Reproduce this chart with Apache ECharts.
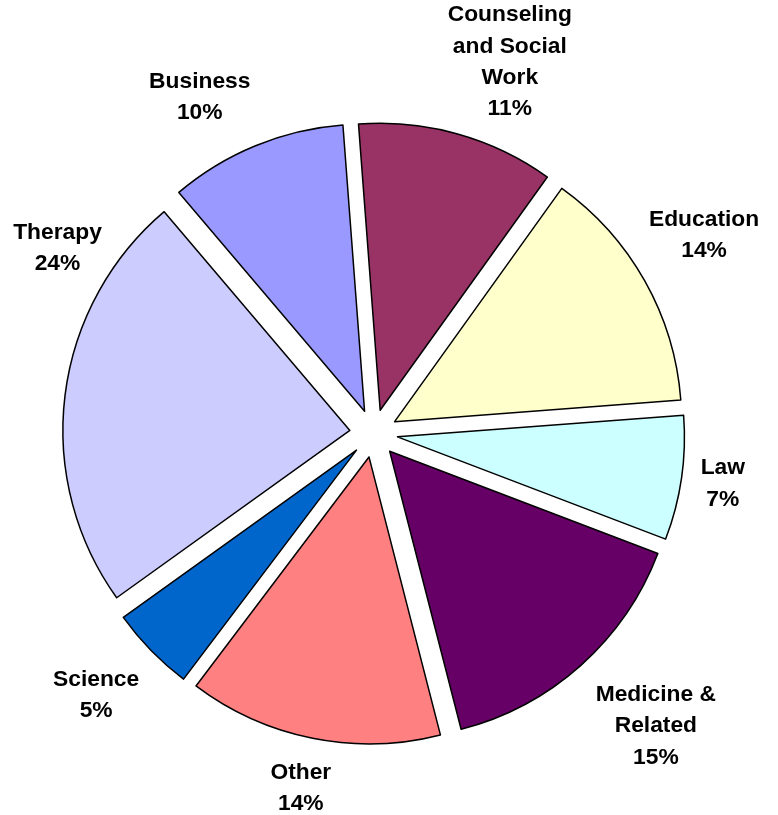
<!DOCTYPE html>
<html>
<head>
<meta charset="utf-8">
<script src="https://cdn.jsdelivr.net/npm/echarts@6/dist/echarts.min.js"></script>
<style>
  html, body { margin: 0; padding: 0; background: #ffffff; }
  #chart { width: 778px; height: 815px; }
</style>
</head>
<body>
<div id="chart"></div>
<script>
// ---- data ----
const categories = ['Business', 'Counseling\nand Social\nWork', 'Education', 'Law', 'Medicine &\nRelated', 'Other', 'Science', 'Therapy'];
const shares = [10.0, 11.1, 13.9, 7.0, 15.2, 14.3, 4.8, 23.7];

// ---- styling / layout (kept apart from the data) ----
const sliceColors = ['#9999FF', '#993366', '#FFFFCC', '#CCFFFF', '#660066', '#FF8080', '#0066CC', '#CCCCFF'];
// small label nudges (dx, dy) away from the default outside anchor
const labelNudge = [[-33, 7], [36, -14], [7, -16], [-18, -3], [35, 16], [0, -9], [-12, 3], [52, -140]];

const chart = echarts.init(document.getElementById('chart'), null, { renderer: 'canvas' });

const data = categories.map((name, i) => ({
  name: name,
  value: shares[i],
  selected: true,
  itemStyle: { color: sliceColors[i] }
}));

chart.setOption({
  animation: false,
  backgroundColor: '#ffffff',
  series: [{
    type: 'pie',
    center: [373.7, 433.4],
    radius: 287,
    startAngle: 130.33,
    clockwise: true,
    selectedMode: 'multiple',
    selectedOffset: 24,
    avoidLabelOverlap: false,
    percentPrecision: 0,
    emphasis: { disabled: true },
    itemStyle: { borderColor: '#000000', borderWidth: 1.5 },
    select: { itemStyle: { borderColor: '#000000', borderWidth: 1.5 } },
    label: {
      show: true,
      position: 'outside',
      distanceToLabelLine: 0,
      color: '#000000',
      fontFamily: 'Liberation Sans, Arial, sans-serif',
      fontWeight: 'bold',
      fontSize: 22.8,
      lineHeight: 31.3,
      align: 'center',
      formatter: p => p.name + '\n' + p.percent + '%'
    },
    labelLine: { show: false, length: 60, length2: 0 },
    labelLayout: function (params) {
      const n = labelNudge[params.dataIndex] || [0, 0];
      return { align: 'center', verticalAlign: 'middle', dx: n[0], dy: n[1] };
    },
    data: data
  }]
});
</script>
</body>
</html>
